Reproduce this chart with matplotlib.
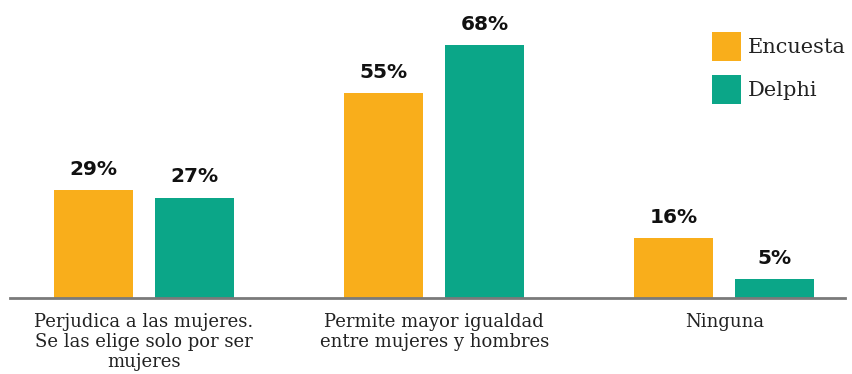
import matplotlib
matplotlib.use("Agg")
import matplotlib.pyplot as plt
import numpy as np

categories = [
    "Perjudica a las mujeres.\nSe las elige solo por ser\nmujeres",
    "Permite mayor igualdad\nentre mujeres y hombres",
    "Ninguna",
]
series_names = ["Encuesta", "Delphi"]
encuesta = [29, 55, 16]
delphi = [27, 68, 5]
colors = ["#F9AE1B", "#0BA688"]

W, H = 852, 374
fig = plt.figure(figsize=(W / 100, H / 100), dpi=100)
ax = fig.add_axes([10 / W, (H - 298) / H, 835 / W, 260.4 / H])

x = np.arange(len(categories))
width = 0.272
offset = 0.174

label_font = dict(family=["DejaVu Sans"], fontweight="bold", fontsize=14.5)
cat_font = ["DejaVu Serif"]

for vals, off, col, name in zip([encuesta, delphi], [-offset, offset], colors, series_names):
    bars = ax.bar(x + off, vals, width=width, color=col, label=name, zorder=2)
    for b, v in zip(bars, vals):
        ax.annotate(f"{v}%", (b.get_x() + b.get_width() / 2, v), xytext=(0, 8),
                    textcoords="offset points", ha="center", va="bottom",
                    color="#111111", **label_font)

ax.set_xlim(-0.462, 2.4155)
ax.set_ylim(0, 70)
ax.set_yticks([])
ax.set_xticks(x)
ax.set_xticklabels(categories, family=cat_font, fontsize=13, color="#222222",
                   linespacing=1.15)
ax.tick_params(axis="x", length=0, pad=11)
for s in ["top", "right", "left"]:
    ax.spines[s].set_visible(False)
ax.spines["bottom"].set_color("#7a7a7a")
ax.spines["bottom"].set_linewidth(2)
ax.spines["bottom"].set_zorder(3)

leg = ax.legend(loc="upper left", bbox_to_anchor=(712 / W, 1 - 32 / H),
                bbox_transform=fig.transFigure, frameon=False,
                borderpad=0, borderaxespad=0, handlelength=1.39, handleheight=1.765,
                handletextpad=0.34, labelspacing=0.67,
                prop=dict(family=cat_font, size=15))
for t in leg.get_texts():
    t.set_color("#222222")

fig.savefig("out.png", dpi=100)
